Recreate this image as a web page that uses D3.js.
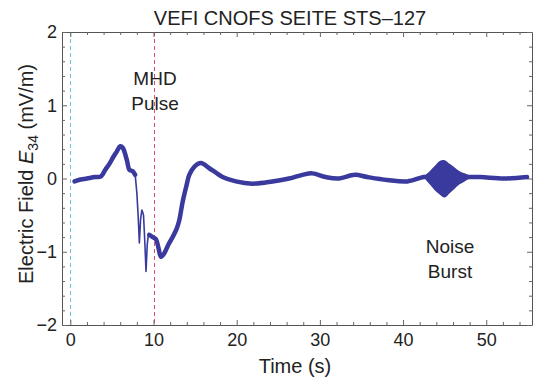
<!DOCTYPE html>
<html>
<head>
<meta charset="utf-8">
<script src="https://cdn.jsdelivr.net/npm/d3@7"></script>
<style>
  body { margin: 0; background: #fff; }
  svg { font-family: "Liberation Sans", Arial, sans-serif; }
</style>
</head>
<body>
<div id="chart"></div>
<script>
// early part of the trace (thick, noisy)
var timeA = [0.5, 1, 2, 3, 3.7, 4.2, 4.7, 5.2, 5.6, 6.0, 6.3, 6.8, 7.1, 7.5, 7.8];
var valA  = [-0.04, -0.02, 0.0, 0.02, 0.03, 0.12, 0.2, 0.3, 0.37, 0.44, 0.42, 0.25, 0.12, 0.1, 0.05];

// fast drop (thin trace)
var timeB = [7.8, 8.0, 8.15, 8.3, 8.45, 8.6, 8.7, 8.8, 8.95, 9.1, 9.25, 9.4, 9.5];
var valB  = [0.05, -0.2, -0.5, -0.88, -0.55, -0.43, -0.46, -0.5, -0.85, -1.27, -0.9, -0.75, -0.77];

// recovery and the quiet tail
var timeC = [9.5, 9.9, 10.3, 10.6, 10.9, 11.3, 11.8, 12.3, 12.8, 13.1, 13.5, 14.0, 14.3, 14.9, 15.7,
             16.7, 17.5, 18.3, 19.9, 21.9, 24.3, 26.3, 27.9, 29.1, 30.7, 32.3, 34.2, 35.7, 38.1,
             40.5, 42.5, 43.5, 45, 46.5, 47.7, 49.3, 52.1, 54.9];
var valC  = [-0.77, -0.8, -0.83, -0.95, -1.07, -1.02, -0.9, -0.8, -0.68, -0.57, -0.32, -0.08, 0.05, 0.16, 0.21,
             0.14, 0.08, 0.02, -0.04, -0.07, -0.04, 0.0, 0.05, 0.07, 0.02, 0.0, 0.05, 0.02, -0.02,
             -0.04, 0.02, 0.02, 0.02, 0.02, 0.02, 0.02, 0.0, 0.02];

// noise burst envelope
var burstT  = [42.6, 43.2, 43.8, 44.4, 45.0, 45.6, 46.2, 46.8, 47.4, 48.0];
var burstHi = [0.04, 0.1, 0.17, 0.24, 0.25, 0.2, 0.15, 0.1, 0.07, 0.04];
var burstLo = [0.0, -0.08, -0.16, -0.22, -0.26, -0.2, -0.14, -0.08, -0.04, 0.0];

var xMajor = [0, 10, 20, 30, 40, 50];
var yMajor = [-2, -1, 0, 1, 2];
var markerTimes = [0, 10];

var W = 533, H = 381;
var plotLeft = 62, plotRight = 532, plotTop = 32, plotBottom = 325;

var svg = d3.select("#chart").append("svg")
  .attr("width", W)
  .attr("height", H);

var x = d3.scaleLinear().domain([-1, 55.5]).range([plotLeft, plotRight]);
var y = d3.scaleLinear().domain([-2, 2]).range([plotBottom, plotTop]);

var xMinor = d3.range(0, 56, 2).filter(function(d) { return d % 10 != 0; });
var yMinor = d3.range(-2, 2.01, 0.2).map(function(d) { return +d.toFixed(1); })
  .filter(function(d) { return Math.abs(d - Math.round(d)) > 0.01; });

// dashed marker lines
var markerColors = ["#6cc6d0", "#e0486e"];
svg.selectAll(".marker")
  .data(markerTimes)
  .enter().append("line")
  .attr("x1", function(d) { return Math.round(x(d)) + 0.5; })
  .attr("x2", function(d) { return Math.round(x(d)) + 0.5; })
  .attr("y1", plotTop)
  .attr("y2", plotBottom)
  .attr("stroke", function(d, i) { return markerColors[i]; })
  .attr("stroke-width", 1)
  .attr("stroke-dasharray", "4,3");

// axes
function styleAxis(g) {
  g.selectAll("line").attr("stroke", "#666");
  g.selectAll("path").attr("stroke", "#555");
  g.selectAll("text").attr("fill", "#222").style("font-size", "18px");
}

svg.append("g")
  .attr("transform", "translate(0," + plotBottom + ")")
  .call(d3.axisBottom(x).tickValues(xMajor).tickSizeInner(-5).tickSizeOuter(0).tickPadding(8))
  .call(styleAxis);
svg.append("g")
  .attr("transform", "translate(0," + plotBottom + ")")
  .call(d3.axisBottom(x).tickValues(xMinor).tickSize(-3).tickFormat(""))
  .call(styleAxis)
  .select(".domain").remove();

svg.append("g")
  .attr("transform", "translate(0," + plotTop + ")")
  .call(d3.axisTop(x).tickValues(xMajor).tickSizeInner(-5).tickSizeOuter(0).tickFormat(""))
  .call(styleAxis);
svg.append("g")
  .attr("transform", "translate(0," + plotTop + ")")
  .call(d3.axisTop(x).tickValues(xMinor).tickSize(-3).tickFormat(""))
  .call(styleAxis)
  .select(".domain").remove();

svg.append("g")
  .attr("transform", "translate(" + plotLeft + ",0)")
  .call(d3.axisLeft(y).tickValues(yMajor).tickSizeInner(-5).tickSizeOuter(0).tickPadding(5)
    .tickFormat(function(d) { return d < 0 ? "\u2212" + Math.abs(d) : d; }))
  .call(styleAxis);
svg.append("g")
  .attr("transform", "translate(" + plotLeft + ",0)")
  .call(d3.axisLeft(y).tickValues(yMinor).tickSize(-3).tickFormat(""))
  .call(styleAxis)
  .select(".domain").remove();

svg.append("g")
  .attr("transform", "translate(" + plotRight + ",0)")
  .call(d3.axisRight(y).tickValues(yMajor).tickSizeInner(-5).tickSizeOuter(0).tickFormat(""))
  .call(styleAxis);
svg.append("g")
  .attr("transform", "translate(" + plotRight + ",0)")
  .call(d3.axisRight(y).tickValues(yMinor).tickSize(-3).tickFormat(""))
  .call(styleAxis)
  .select(".domain").remove();

// the trace
var traceColor = "#3a3a9e";
function pts(t, v) { return t.map(function(d, i) { return [d, v[i]]; }); }

var smooth = d3.line()
  .x(function(d) { return x(d[0]); })
  .y(function(d) { return y(d[1]); })
  .curve(d3.curveCatmullRom);
var sharp = d3.line()
  .x(function(d) { return x(d[0]); })
  .y(function(d) { return y(d[1]); });

svg.append("path")
  .attr("d", sharp(pts(timeB, valB)))
  .attr("fill", "none")
  .attr("stroke", traceColor)
  .attr("stroke-width", 1.6)
  .attr("stroke-linejoin", "round");

svg.append("path")
  .attr("d", smooth(pts(timeA, valA)))
  .attr("fill", "none")
  .attr("stroke", traceColor)
  .attr("stroke-width", 4.5)
  .attr("stroke-linecap", "round")
  .attr("stroke-linejoin", "round");

svg.append("path")
  .attr("d", smooth(pts(timeC, valC)))
  .attr("fill", "none")
  .attr("stroke", traceColor)
  .attr("stroke-width", 4.5)
  .attr("stroke-linecap", "round")
  .attr("stroke-linejoin", "round");

var burst = d3.area()
  .x(function(d, i) { return x(burstT[i]); })
  .y0(function(d, i) { return y(burstLo[i]); })
  .y1(function(d, i) { return y(burstHi[i]); })
  .curve(d3.curveCatmullRom);
svg.append("path")
  .attr("d", burst(burstT))
  .attr("fill", traceColor);

// texts
svg.append("text")
  .attr("x", 290).attr("y", 25)
  .attr("text-anchor", "middle")
  .style("font-size", "20px").attr("fill", "#222")
  .text("VEFI CNOFS SEITE STS\u2013127");

svg.append("text")
  .attr("x", 295).attr("y", 373)
  .attr("text-anchor", "middle")
  .style("font-size", "20px").attr("fill", "#222")
  .text("Time (s)");

var ylab = svg.append("text")
  .attr("transform", "translate(33,174) rotate(-90)")
  .attr("text-anchor", "middle")
  .style("font-size", "20px").attr("fill", "#222");
ylab.append("tspan").text("Electric Field ");
ylab.append("tspan").style("font-style", "italic").text("E");
ylab.append("tspan").attr("dy", 5).style("font-size", "14px").text("34");
ylab.append("tspan").attr("dy", -5).text(" (mV/m)");

var notes = [
  {t: "MHD", cx: 155, cy: 85},
  {t: "Pulse", cx: 155, cy: 110},
  {t: "Noise", cx: 450, cy: 253},
  {t: "Burst", cx: 450, cy: 278}
];
svg.selectAll(".note")
  .data(notes)
  .enter().append("text")
  .attr("x", function(d) { return d.cx; })
  .attr("y", function(d) { return d.cy; })
  .attr("text-anchor", "middle")
  .style("font-size", "19px").attr("fill", "#222")
  .text(function(d) { return d.t; });
</script>
</body>
</html>
